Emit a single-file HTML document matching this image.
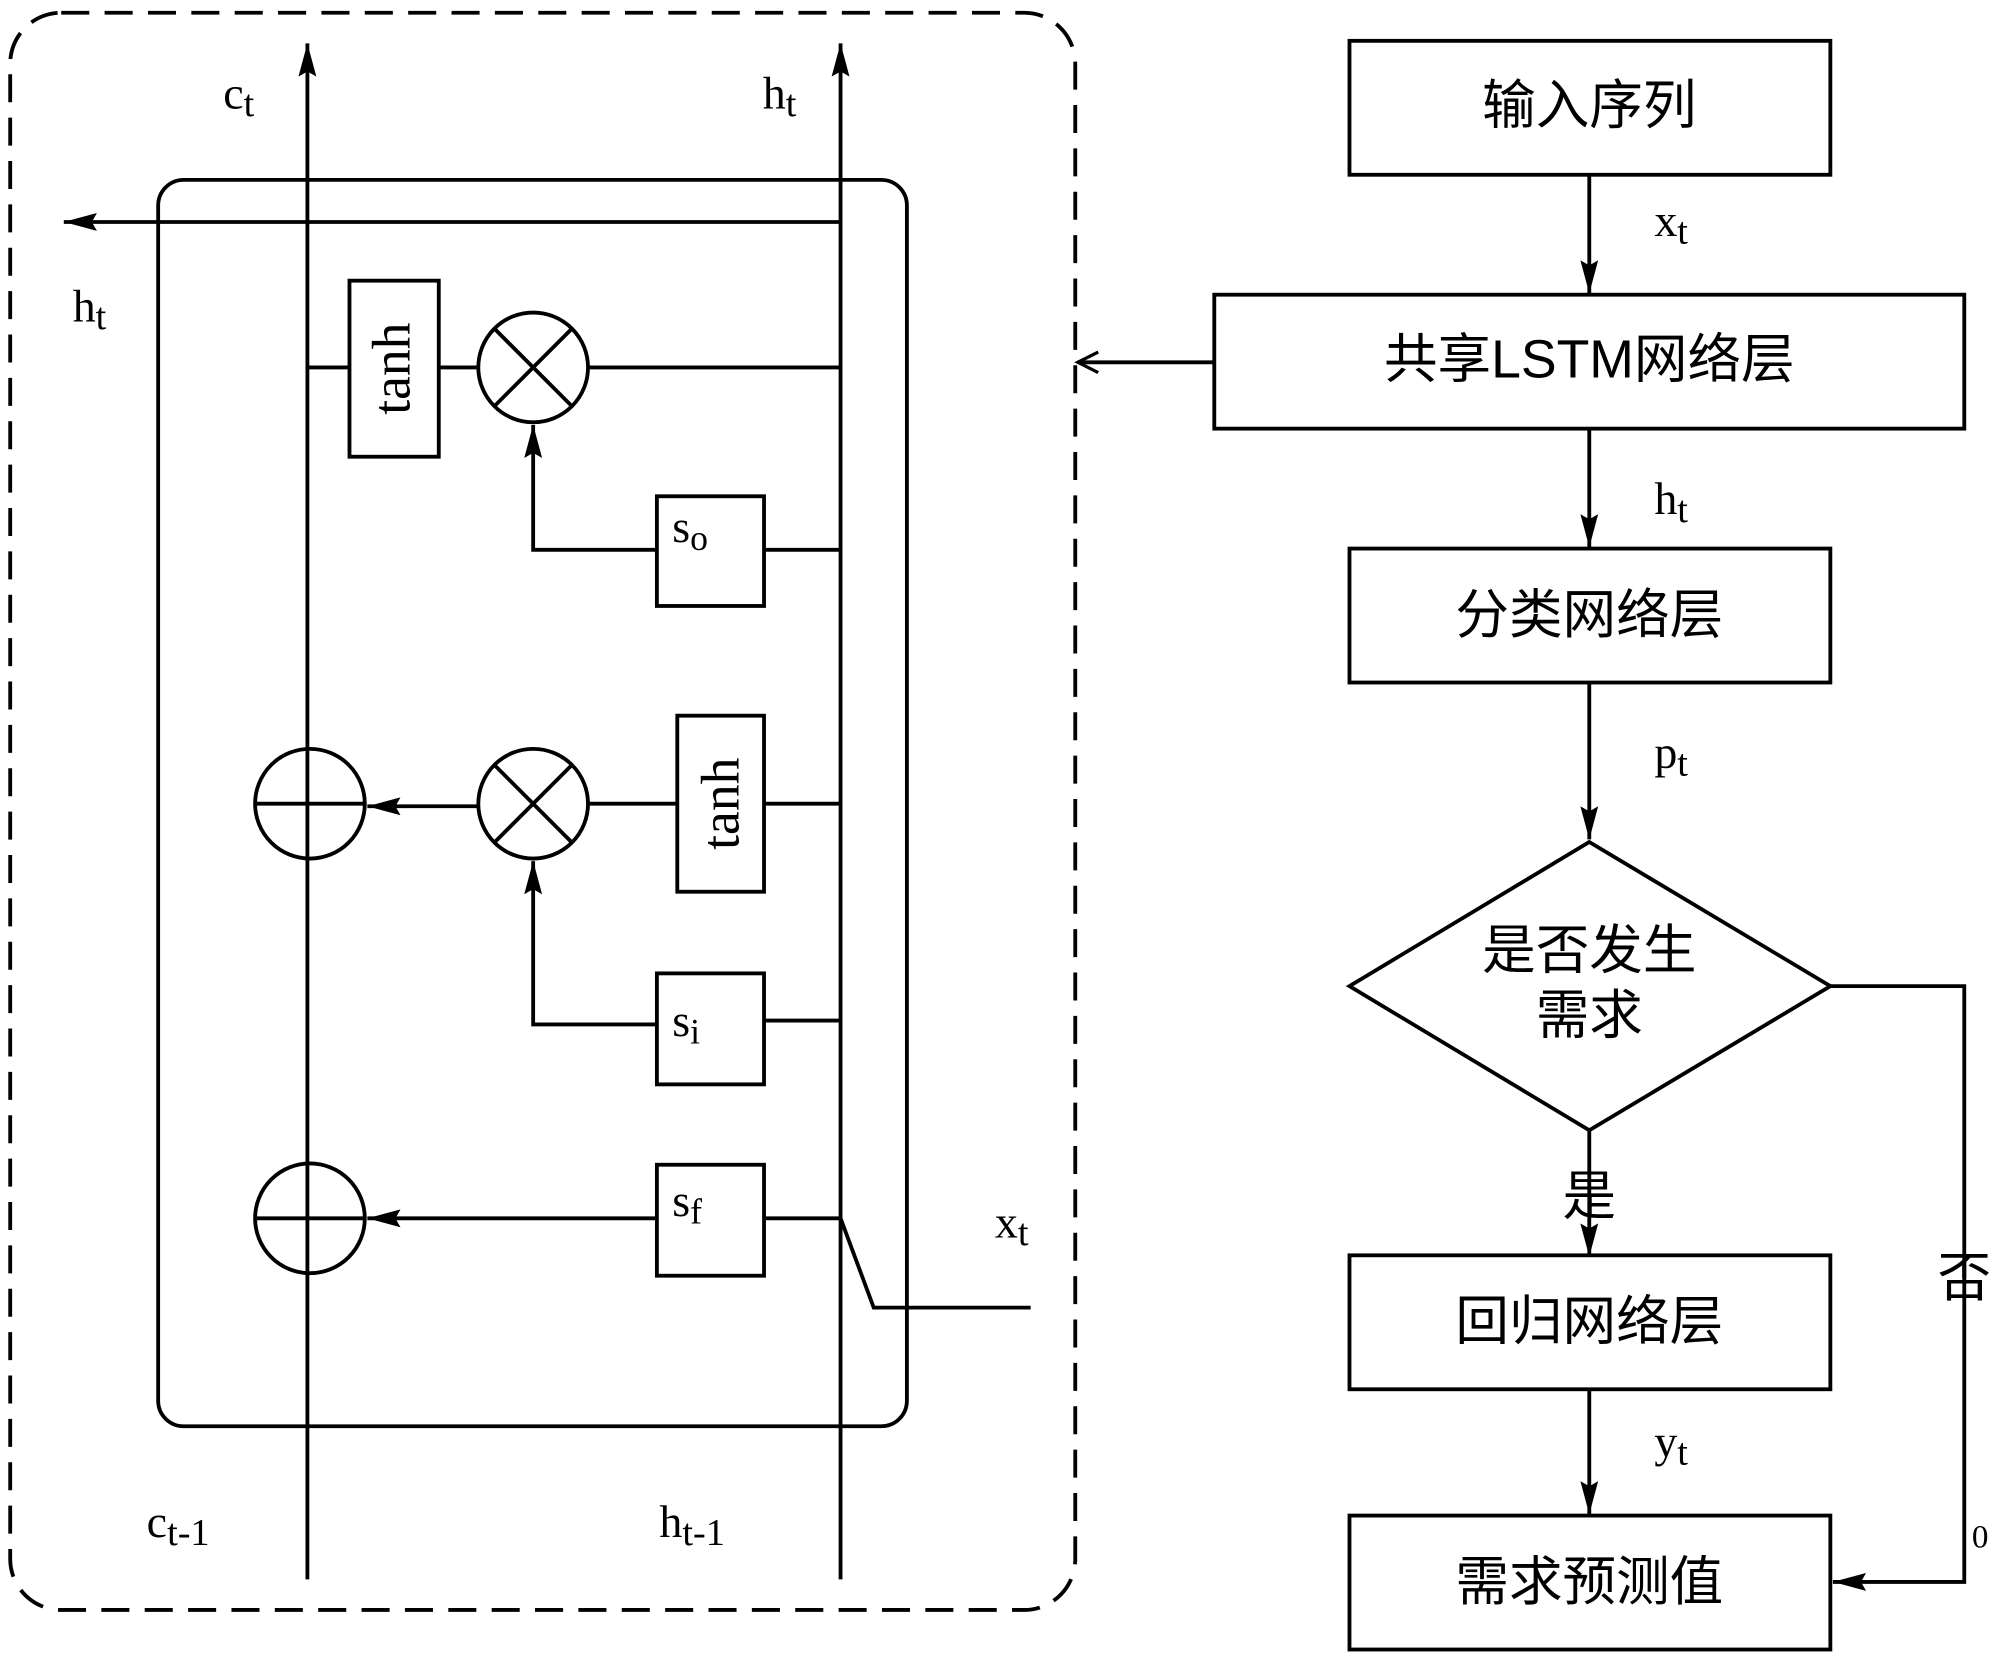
<!DOCTYPE html>
<html><head><meta charset="utf-8"><style>
html,body{margin:0;padding:0;background:#fff;}
svg{display:block;}
text{font-family:"Liberation Serif","Noto Serif CJK SC",serif;fill:#000;}
.cn{font-family:"Liberation Sans","Noto Sans CJK SC",sans-serif;}
</style></head><body>
<svg width="2000" height="1661" viewBox="0 0 1568 1302" preserveAspectRatio="none" xmlns="http://www.w3.org/2000/svg">
<defs>
<marker id="b" markerWidth="26" markerHeight="14" refX="26" refY="7" orient="auto" markerUnits="userSpaceOnUse">
<path d="M0,0 L26,7 L0,14 L4,7 Z" fill="#000"/></marker>
<marker id="o" markerWidth="20" markerHeight="20" refX="17" refY="9" orient="auto" markerUnits="userSpaceOnUse">
<path d="M1,1 L17,9 L1,17" fill="none" stroke="#000" stroke-width="2.5"/></marker>
</defs>
<g stroke="#000" stroke-width="3" fill="none">
<rect x="8" y="10" width="835" height="1252" rx="40" stroke-dasharray="22,12"/>
<rect x="124" y="141" width="587" height="977" rx="20"/>
<line x1="241" y1="1238" x2="241" y2="34" marker-end="url(#b)"/>
<line x1="659" y1="1238" x2="659" y2="34" marker-end="url(#b)"/>
<line x1="659" y1="174" x2="50" y2="174" marker-end="url(#b)"/>
<rect x="274" y="220" width="70" height="138"/>
<line x1="241" y1="288" x2="274" y2="288"/><line x1="344" y1="288" x2="375" y2="288"/>
<circle cx="418" cy="288" r="43"/>
<line x1="388" y1="258" x2="448" y2="318"/><line x1="448" y1="258" x2="388" y2="318"/>
<line x1="461" y1="288" x2="659" y2="288"/>
<rect x="515" y="389" width="84" height="86"/>
<line x1="599" y1="431" x2="659" y2="431"/>
<polyline points="515,431 418,431 418,333" marker-end="url(#b)"/>
<circle cx="243" cy="630" r="43"/><line x1="200" y1="630" x2="286" y2="630"/>
<circle cx="418" cy="630" r="43"/>
<line x1="388" y1="600" x2="448" y2="660"/><line x1="448" y1="600" x2="388" y2="660"/>
<rect x="531" y="561" width="68" height="138"/>
<line x1="599" y1="630" x2="659" y2="630"/>
<line x1="531" y1="630" x2="461" y2="630"/>
<line x1="375" y1="632" x2="288" y2="632" marker-end="url(#b)"/>
<rect x="515" y="763" width="84" height="87"/>
<line x1="599" y1="800" x2="659" y2="800"/>
<polyline points="515,803 418,803 418,675" marker-end="url(#b)"/>
<circle cx="243" cy="955" r="43"/><line x1="200" y1="955" x2="286" y2="955"/>
<rect x="515" y="913" width="84" height="87"/>
<line x1="599" y1="955" x2="659" y2="955"/>
<line x1="515" y1="955" x2="288" y2="955" marker-end="url(#b)"/>
<polyline points="659,955 685,1025 808,1025"/>
<rect x="1058" y="32" width="377" height="105"/>
<line x1="1246" y1="137" x2="1246" y2="230" marker-end="url(#b)"/>
<rect x="952" y="231" width="588" height="105"/>
<line x1="952" y1="284" x2="845" y2="284" marker-end="url(#o)"/>
<line x1="1246" y1="336" x2="1246" y2="429" marker-end="url(#b)"/>
<rect x="1058" y="430" width="377" height="105"/>
<line x1="1246" y1="535" x2="1246" y2="658" marker-end="url(#b)"/>
<polygon points="1246,660 1435,773 1246,886 1058,773"/>
<line x1="1246" y1="886" x2="1246" y2="985" marker-end="url(#b)"/>
<rect x="1058" y="984" width="377" height="105"/>
<line x1="1246" y1="1089" x2="1246" y2="1187" marker-end="url(#b)"/>
<rect x="1058" y="1188" width="377" height="105"/>
<polyline points="1435,773 1540,773 1540,1240 1437,1240" marker-end="url(#b)"/>
</g>
<g font-size="36">
<text x="175" y="85">c<tspan font-size="30" dy="6">t</tspan></text>
<text x="598" y="85">h<tspan font-size="30" dy="6">t</tspan></text>
<text x="57" y="252">h<tspan font-size="30" dy="6">t</tspan></text>
<text x="115" y="1205">c<tspan font-size="30" dy="6">t-1</tspan></text>
<text x="517" y="1205">h<tspan font-size="30" dy="6">t-1</tspan></text>
<text x="780" y="970">x<tspan font-size="30" dy="6">t</tspan></text>
<text x="527" y="425">s<tspan font-size="28" dy="6">o</tspan></text>
<text x="527" y="812">s<tspan font-size="28" dy="6">i</tspan></text>
<text x="527" y="953">s<tspan font-size="28" dy="6">f</tspan></text>
<text x="1297" y="185">x<tspan font-size="30" dy="6">t</tspan></text>
<text x="1297" y="403">h<tspan font-size="30" dy="6">t</tspan></text>
<text x="1297" y="602">p<tspan font-size="30" dy="6">t</tspan></text>
<text x="1297" y="1142">y<tspan font-size="30" dy="6">t</tspan></text>
<text x="1546" y="1213" font-size="26">0</text>
</g>
<text font-size="42" transform="translate(321,289) rotate(-90)" text-anchor="middle">tanh</text>
<text font-size="42" transform="translate(579,630) rotate(-90)" text-anchor="middle">tanh</text>
<g font-size="42" text-anchor="middle">
<text class="cn" x="1246" y="97">输入序列</text>
<text class="cn" x="1246" y="296">共享LSTM网络层</text>
<text class="cn" x="1246" y="496">分类网络层</text>
<text class="cn" x="1246" y="759">是否发生</text>
<text class="cn" x="1246" y="810">需求</text>
<text class="cn" x="1246" y="952">是</text>
<text class="cn" x="1540" y="1016">否</text>
<text class="cn" x="1246" y="1050">回归网络层</text>
<text class="cn" x="1246" y="1254">需求预测值</text>
</g>
</svg>
</body></html>
